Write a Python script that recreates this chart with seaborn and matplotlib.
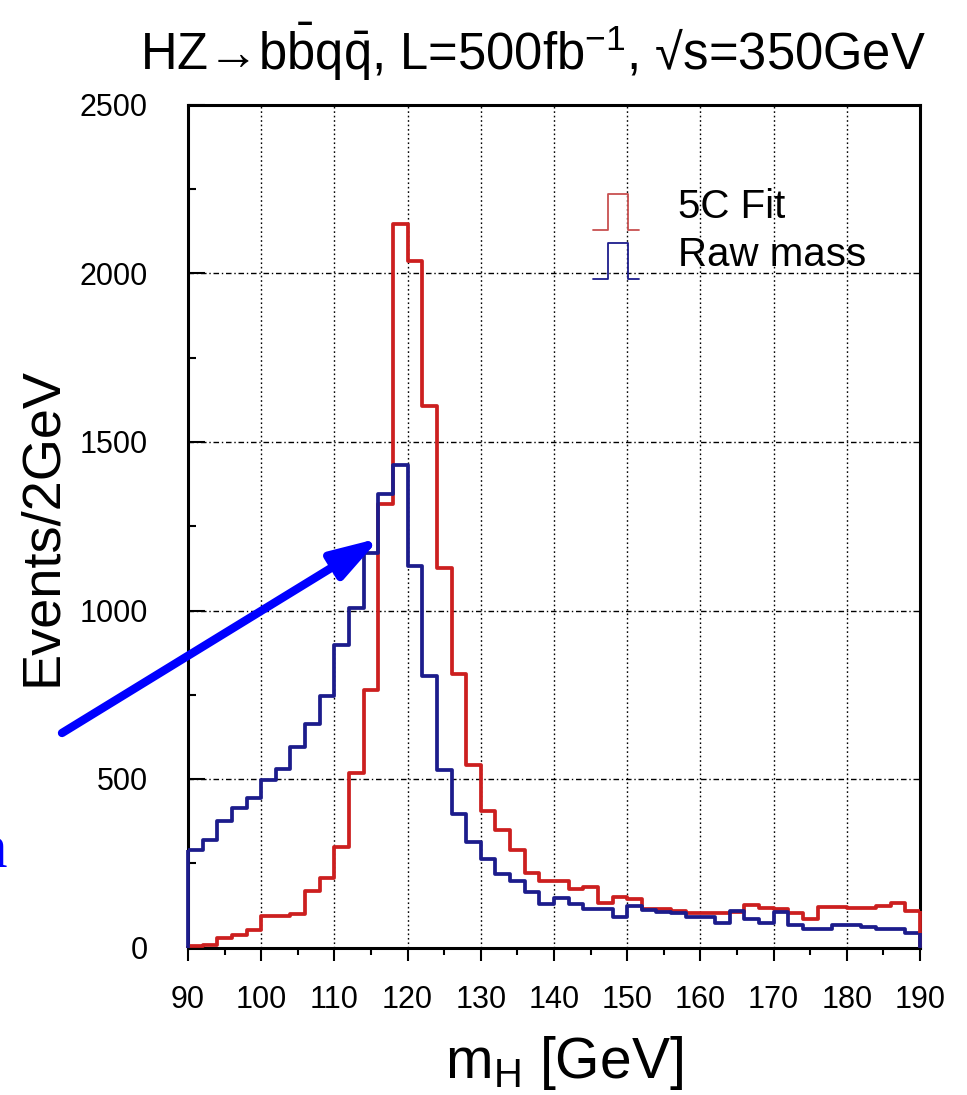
import numpy as np
import pandas as pd
import matplotlib
matplotlib.use("Agg")
import matplotlib.pyplot as plt
import seaborn as sns
from matplotlib.legend_handler import HandlerBase
from matplotlib.lines import Line2D
from matplotlib.ticker import MultipleLocator
from matplotlib.patches import ArrowStyle

# ---------------- data ----------------
bin_edges = list(range(90, 191, 2))  # 2 GeV bins, 90..190 GeV

fit_5c = [3, 8, 28, 38, 52, 92, 94, 100, 167, 207,
          297, 517, 763, 1316, 2146, 2038, 1608, 1125, 812, 541,
          404, 348, 288, 220, 196, 197, 173, 181, 133, 149,
          143, 113, 113, 109, 101, 101, 101, 104, 126, 116,
          113, 101, 85, 119, 119, 117, 117, 122, 133, 109]

raw_mass = [290, 318, 374, 413, 444, 496, 530, 596, 664, 747,
            898, 1006, 1172, 1347, 1431, 1133, 805, 528, 395, 314,
            263, 217, 198, 166, 128, 146, 128, 115, 115, 90,
            123, 111, 105, 101, 90, 90, 72, 108, 85, 72,
            106, 67, 54, 54, 67, 67, 60, 54, 54, 42]

series_labels = ["5C Fit", "Raw mass"]
x_ticks = [90, 100, 110, 120, 130, 140, 150, 160, 170, 180, 190]
y_ticks = [0, 500, 1000, 1500, 2000, 2500]

RED = "#cc1f1f"
BLUE = "#1c1c8c"
ARROW_BLUE = "#0000ff"

# ---------------- style ----------------
sns.set_theme(style="white")
plt.rcParams["font.family"] = ["Liberation Sans", "DejaVu Sans"]
plt.rcParams["mathtext.fontset"] = "custom"
plt.rcParams["mathtext.rm"] = "Liberation Sans"
plt.rcParams["mathtext.it"] = "Liberation Sans:italic"
plt.rcParams["mathtext.bf"] = "Liberation Sans:bold"
plt.rcParams["text.color"] = "black"
plt.rcParams["axes.labelcolor"] = "black"
plt.rcParams["xtick.color"] = "black"
plt.rcParams["ytick.color"] = "black"

W, H = 967, 1095
fig = plt.figure(figsize=(W / 100, H / 100), dpi=100)
fig.patch.set_facecolor("white")
ax = fig.add_axes([188 / W, 1 - 947.5 / H, (920 - 188) / W, (947.5 - 105) / H])

centers = [(bin_edges[i] + bin_edges[i + 1]) / 2 for i in range(len(bin_edges) - 1)]
df = pd.DataFrame({"mH": centers, "fit": fit_5c, "raw": raw_mass})

sns.histplot(data=df, x="mH", weights="fit", bins=bin_edges, element="step",
             fill=False, color=RED, linewidth=2.7, ax=ax, zorder=3)
sns.histplot(data=df, x="mH", weights="raw", bins=bin_edges, element="step",
             fill=False, color=BLUE, linewidth=2.7, ax=ax, zorder=3)
# closing edges of the histograms
ax.vlines([bin_edges[0], bin_edges[-1]], 0, [fit_5c[0], fit_5c[-1]], color=RED,
          linewidth=2.7, zorder=3, clip_on=False)
ax.vlines([bin_edges[0], bin_edges[-1]], 0, [raw_mass[0], raw_mass[-1]], color=BLUE,
          linewidth=2.7, zorder=3.1, clip_on=False)

ax.set_xlim(90, 190)
ax.set_ylim(0, 2500)
ax.set_xticks(x_ticks)
ax.set_yticks(y_ticks)
ax.xaxis.set_minor_locator(MultipleLocator(5))
ax.yaxis.set_minor_locator(MultipleLocator(250))

# grid: dotted verticals, dash-dot horizontals
for xv in x_ticks[1:-1]:
    ax.axvline(xv, color="black", linewidth=1.0, linestyle=(0, (1.2, 2.0)), zorder=1)
for yv in y_ticks[1:-1]:
    ax.axhline(yv, color="black", linewidth=1.0, linestyle=(0, (4, 2, 1, 2)), zorder=1)

for s in ax.spines.values():
    s.set_linewidth(2.2)
    s.set_color("black")

ax.tick_params(axis="x", which="major", direction="out", length=9, width=1.5,
               labelsize=22, pad=18, colors="black")
ax.tick_params(axis="x", which="minor", direction="out", length=5, width=1.5)
ax.tick_params(axis="y", which="major", direction="in", length=12, width=1.5,
               labelsize=22, pad=29, colors="black")
ax.tick_params(axis="y", which="minor", direction="in", length=6, width=1.5)
ax.tick_params(axis="both", which="both", bottom=True, left=True, top=False, right=False)

ax.set_xlabel(r"m$_{\rm H}$ [GeV]", fontsize=41, color="black")
ax.set_ylabel("Events/2GeV", fontsize=39, color="black")
ax.xaxis.set_label_coords(0.513, -0.103)
ax.yaxis.set_label_coords(-0.165, 0.5)

fig.text(533 / W, 1 - 52 / H,
         "HZ\u2192b$\\bar{\\rm b}$q$\\bar{\\rm q}$, L=500fb$^{-1}$, \u221As=350GeV",
         fontsize=36.5, ha="center", va="center", color="black")


# legend with histogram-shaped icons
class HandlerStep(HandlerBase):
    def create_artists(self, legend, orig_handle, xdescent, ydescent, width, height,
                       fontsize, trans):
        x0, y0 = -xdescent, -ydescent - 0.22 * height
        xs = [x0, x0 + 0.32 * width, x0 + 0.32 * width, x0 + 0.75 * width,
              x0 + 0.75 * width, x0 + width]
        ys = [y0, y0, y0 + height, y0 + height, y0, y0]
        ln = Line2D(xs, ys, color=orig_handle.get_color(), linewidth=1.3,
                    transform=trans)
        return [ln]


handles = [Line2D([], [], color="#c85050"), Line2D([], [], color=BLUE)]
leg = ax.legend(handles=handles, labels=series_labels,
                handler_map={Line2D: HandlerStep()},
                loc="upper left", bbox_to_anchor=(593 / W, 1 - 186 / H),
                bbox_transform=fig.transFigure, frameon=False, fontsize=29,
                handlelength=1.15, handleheight=1.0, handletextpad=0.95,
                labelspacing=0.22, borderpad=0, borderaxespad=0)
for t in leg.get_texts():
    t.set_color("black")

# annotation arrow
ax.annotate("", xy=(380 / W, 1 - 538 / H), xytext=(62 / W, 1 - 733 / H),
            xycoords="figure fraction", textcoords="figure fraction",
            arrowprops=dict(arrowstyle=ArrowStyle("-|>", head_length=2.9, head_width=0.9),
                            mutation_scale=10, color=ARROW_BLUE, lw=6,
                            shrinkA=0, shrinkB=0),
            annotation_clip=False, zorder=5)

# cut-off text fragment at the left edge (as in the reference)
fig.text(7 / W, 1 - 867 / H, "n", family=["Liberation Serif", "DejaVu Serif"],
         fontsize=44, color=ARROW_BLUE, ha="right", va="baseline")

fig.savefig("out.png", dpi=100, facecolor="white")
